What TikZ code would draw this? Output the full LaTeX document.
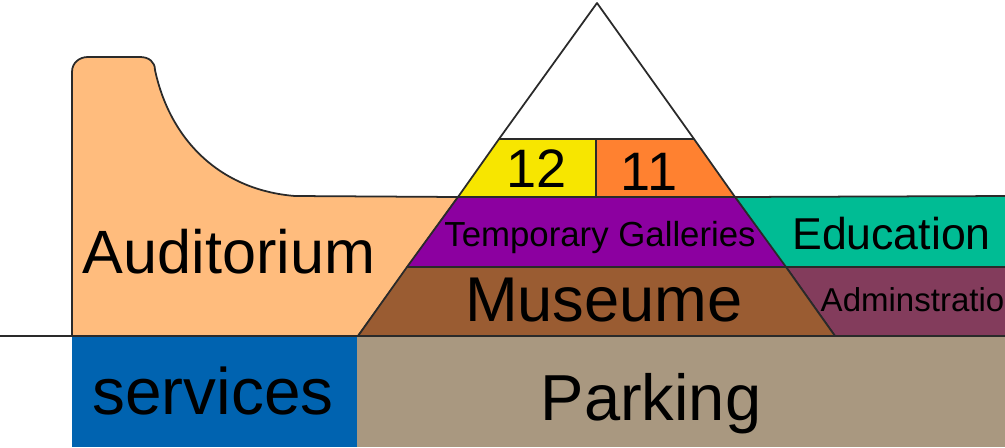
\documentclass[tikz,border=0pt]{standalone}
\usepackage{fontspec}
\setmainfont{Liberation Sans}
\definecolor{audcol}{HTML}{FFBC7D}
\definecolor{galcol}{HTML}{8C00A0}
\definecolor{muscol}{HTML}{9A5C32}
\definecolor{yelcol}{HTML}{F7E600}
\definecolor{orgcol}{HTML}{FF8130}
\definecolor{educol}{HTML}{00BC94}
\definecolor{admcol}{HTML}{833C5C}
\definecolor{sercol}{HTML}{0063B0}
\definecolor{parcol}{HTML}{A99880}
\definecolor{edgecol}{HTML}{2A2A2A}

\begin{document}
\begin{tikzpicture}[
    wall/.style={draw=edgecol, line width=0.5pt, line join=round},
    label/.style={anchor=base, inner sep=0pt, text=black}]
  \useasboundingbox (0,0) rectangle (10.05,4.47);
  \clip (0,0) rectangle (10.05,4.47);
  % below ground
  \fill[sercol] (0.72,0) rectangle (3.57,1.11);
  \fill[parcol] (3.57,0) rectangle (10.05,1.11);
  % auditorium
  \filldraw[wall, fill=audcol] (0.72,1.11) -- (0.72,3.75)
    .. controls (0.72,3.84) and (0.79,3.90) .. (0.88,3.90)
    -- (1.40,3.90) .. controls (1.49,3.90) and (1.55,3.85) .. (1.55,3.77)
    .. controls (1.70,3.07) and (2.20,2.57) .. (2.95,2.51)
    -- (4.58,2.50) -- (3.58,1.11) -- cycle;
  % right wing
  \filldraw[wall, fill=educol] (7.35,2.50) -- (10.10,2.51) -- (10.10,1.80) -- (7.85,1.80) -- cycle;
  \filldraw[wall, fill=admcol] (7.86,1.80) -- (10.10,1.80) -- (10.10,1.11) -- (8.35,1.11) -- cycle;
  % pyramid
  \filldraw[wall, fill=muscol] (3.58,1.11) -- (4.07,1.80) -- (7.86,1.80) -- (8.35,1.11) -- cycle;
  \filldraw[wall, fill=galcol] (4.07,1.80) -- (4.58,2.50) -- (7.35,2.50) -- (7.86,1.80) -- cycle;
  \filldraw[wall, fill=yelcol] (4.58,2.50) -- (4.99,3.08) -- (5.96,3.08) -- (5.96,2.50) -- cycle;
  \filldraw[wall, fill=orgcol] (5.96,2.50) -- (5.96,3.08) -- (6.94,3.08) -- (7.35,2.50) -- cycle;
  \draw[wall] (4.99,3.08) -- (5.97,4.44) -- (6.94,3.08);
  % ground
  \draw[edgecol, line width=0.8pt] (0,1.11) -- (10.05,1.11);
  % labels
  \node[label, font=\fontsize{17.4}{20}\selectfont] (auditorium) at (2.29,1.74) {Auditorium};
  \node[label, font=\fontsize{18.7}{20}\selectfont] (services) at (2.13,0.33) {services};
  \node[label, font=\fontsize{18.5}{20}\selectfont] (parking) at (6.51,0.27) {Parking};
  \node[label, font=\fontsize{18}{20}\selectfont] (museume) at (6.04,1.26) {Museume};
  \node[label, font=\fontsize{9.9}{12}\selectfont] (temporary) at (6.00,2.01) {Temporary Galleries};
  \node[label, font=\fontsize{12.7}{14}\selectfont] (education) at (8.915,1.98) {Education};
  \node[label, font=\fontsize{9.4}{11}\selectfont, anchor=base west] (admin) at (8.20,1.36) {Adminstration};
  \node[label, font=\fontsize{15.4}{18}\selectfont] (twelve) at (5.37,2.60) {12};
  \node[label, font=\fontsize{15.4}{18}\selectfont] (eleven) at (6.49,2.57) {11};
\end{tikzpicture}
\end{document}
